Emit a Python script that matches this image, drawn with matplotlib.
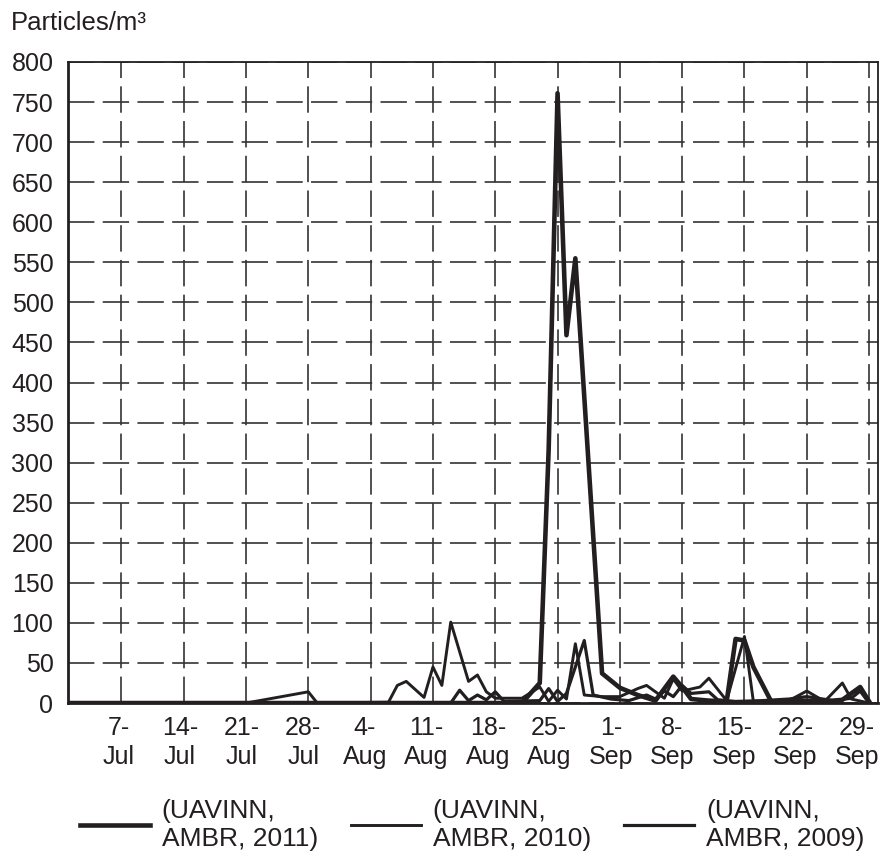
import matplotlib
matplotlib.use('Agg')
import matplotlib.pyplot as plt
import matplotlib.transforms as mtransforms
import pandas as pd

plt.rcParams['font.family'] = ['Liberation Sans', 'DejaVu Sans']
plt.rcParams['lines.scale_dashes'] = False

# sampling days (month-day) and counts, one pair of lists per season
days_2011 = ["07-01", "08-21", "08-23", "08-24", "08-25", "08-26", "08-27", "08-30",
             "09-01", "09-03", "09-05", "09-07", "09-08", "09-09", "09-11", "09-13",
             "09-14", "09-15", "09-16", "09-18", "09-21", "09-24", "09-26", "09-28",
             "09-29"]
vals_2011 = [0, 0, 25, 316, 761, 459, 555, 37,
             19, 10, 3, 33, 20, 5, 3, 2,
             80, 78, 45, 2, 3, 2, 4, 20,
             2]

days_2010 = ["07-01", "07-21", "07-28", "07-29", "08-06", "08-07", "08-08", "08-10",
             "08-11", "08-12", "08-13", "08-15", "08-16", "08-17", "08-18", "08-21",
             "08-23", "08-24", "08-25", "08-26", "08-27", "08-28", "08-30", "09-01",
             "09-03", "09-04", "09-06", "09-07", "09-08", "09-10", "09-11", "09-13",
             "09-15", "09-16", "09-20", "09-22", "09-24", "09-26", "09-27", "09-29"]
vals_2010 = [0, 0, 14, 0, 1, 22, 27, 7,
             45, 22, 101, 27, 35, 14, 6, 6,
             20, 2, 16, 5, 74, 10, 8, 8,
             18, 22, 6, 30, 15, 20, 31, 3,
             83, 2, 3, 15, 2, 25, 5, 0]

days_2009 = ["07-01", "08-13", "08-14", "08-15", "08-16", "08-17", "08-18", "08-19",
             "08-23", "08-24", "08-25", "08-26", "08-28", "08-29", "08-31", "09-02",
             "09-04", "09-05", "09-06", "09-07", "09-08", "09-09", "09-11", "09-12",
             "09-14", "09-17", "09-20", "09-22", "09-25", "09-27", "09-28", "09-29"]
vals_2009 = [0, 0, 16, 3, 10, 4, 14, 2,
             3, 18, 2, 12, 78, 10, 5, 3,
             10, 5, 15, 8, 22, 12, 14, 4,
             2, 3, 5, 8, 3, 6, 15, 0]

tick_days = ["07-07", "07-14", "07-21", "07-28", "08-04", "08-11", "08-18", "08-25",
             "09-01", "09-08", "09-15", "09-22", "09-29"]
tick_labels = ["7-\nJul", "14-\nJul", "21-\nJul", "28-\nJul", "4-\nAug", "11-\nAug",
               "18-\nAug", "25-\nAug", "1-\nSep", "8-\nSep", "15-\nSep", "22-\nSep",
               "29-\nSep"]
series_names = ["(UAVINN,\nAMBR, 2011)", "(UAVINN,\nAMBR, 2010)", "(UAVINN,\nAMBR, 2009)"]


def to_dates(days):
    return pd.to_datetime(["2011-" + d for d in days])


ink = '#231f20'
fig = plt.figure(figsize=(8.8, 8.56), dpi=100)
ax = fig.add_axes([0.0773, 0.1787, 0.9204, 0.7489])

ax.plot(to_dates(days_2011), vals_2011, color=ink, lw=3.3, label=series_names[0], zorder=4)
ax.plot(to_dates(days_2010), vals_2010, color=ink, lw=2.1, label=series_names[1], zorder=3)
ax.plot(to_dates(days_2009), vals_2009, color=ink, lw=2.3, label=series_names[2], zorder=3)

ax.set_xlim(pd.Timestamp("2011-07-01"), pd.Timestamp("2011-09-30"))
ax.set_ylim(0, 800)
ax.set_yticks(range(0, 801, 50))
ax.set_xticks(to_dates(tick_days))
ax.set_xticklabels(tick_labels, linespacing=1.3)
ax.tick_params(axis='both', length=0, labelsize=18, colors=ink)
ax.tick_params(axis='y', pad=10.5)
ax.tick_params(axis='x', pad=9)

# category labels sit a little left of the weekly gridlines, more so to the right
for i, lab in enumerate(ax.get_xticklabels()):
    shift = mtransforms.ScaledTranslation(-(3 + 0.75 * i) / 100, 0, fig.dpi_scale_trans)
    lab.set_transform(lab.get_transform() + shift)

ax.grid(True, color='#333333', lw=1.2, linestyle=(0, (19, 6)))
ax.set_axisbelow(True)

for side in ['left', 'bottom']:
    ax.spines[side].set_linewidth(2.0)
for side in ['top', 'right']:
    ax.spines[side].set_linewidth(1.3)
for s in ax.spines.values():
    s.set_color(ink)

fig.text(0.012, 0.973, "Particles/m³", fontsize=18.5, color=ink, va='center')

fig.legend(loc='lower left', bbox_to_anchor=(80 / 880, 0.006), ncol=3, frameon=False,
           fontsize=19, handlelength=2.65, handletextpad=0.45, columnspacing=1.25,
           borderpad=0, borderaxespad=0, labelcolor=ink)

fig.savefig('out.png', dpi=100)
